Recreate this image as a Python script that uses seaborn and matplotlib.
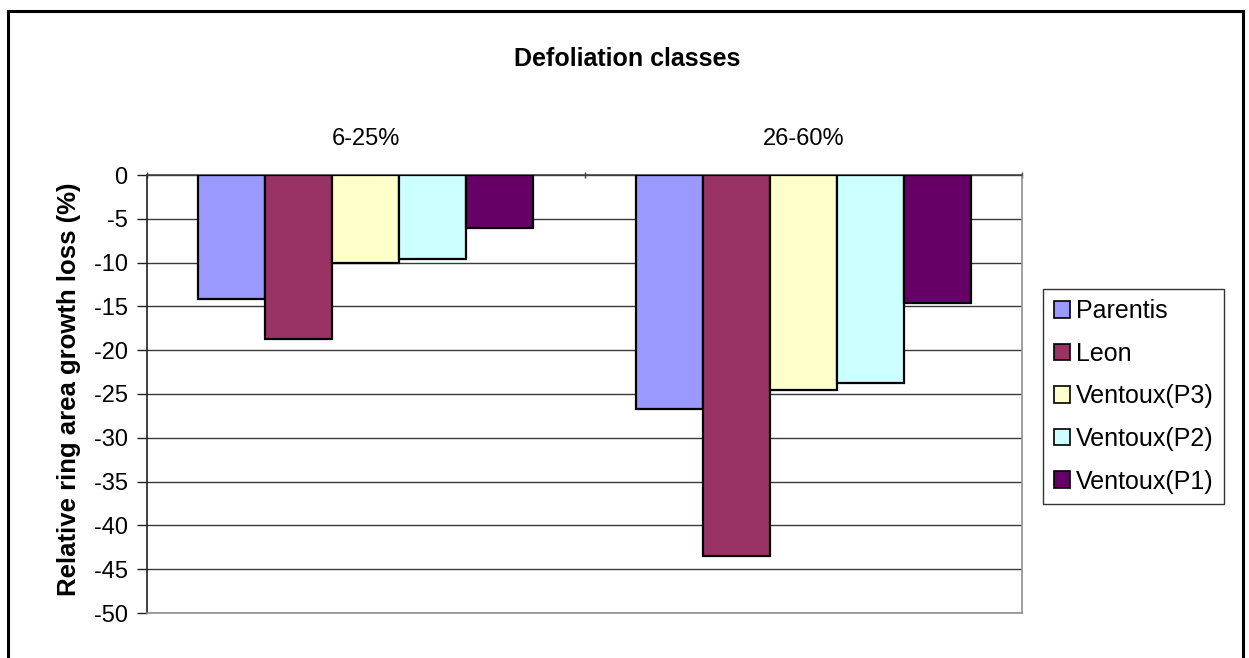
import matplotlib
matplotlib.use("Agg")
import matplotlib.pyplot as plt
import seaborn as sns
import pandas as pd
from matplotlib.patches import Rectangle

# Data
classes = ["6-25%", "26-60%"]
sites = ["Parentis", "Leon", "Ventoux(P3)", "Ventoux(P2)", "Ventoux(P1)"]
parentis = [-14.2, -26.7]
leon = [-18.7, -43.5]
ventoux_p3 = [-10.0, -24.6]
ventoux_p2 = [-9.6, -23.7]
ventoux_p1 = [-6.0, -14.6]
colors = ["#9999FF", "#993366", "#FFFFCC", "#CCFFFF", "#660066"]
yticks = list(range(0, -55, -5))

series = [parentis, leon, ventoux_p3, ventoux_p2, ventoux_p1]
rows = []
for site, vals in zip(sites, series):
    for cls, v in zip(classes, vals):
        rows.append({"cls": cls, "site": site, "val": v})
df = pd.DataFrame(rows)

sns.set_theme(style="white")
plt.rcParams["font.family"] = ["Liberation Sans", "DejaVu Sans"]
for key in ["text.color", "axes.labelcolor", "xtick.color", "ytick.color"]:
    plt.rcParams[key] = "black"

fig = plt.figure(figsize=(12.49, 6.58), dpi=100)
ax = fig.add_axes([147 / 1249, 1 - 613 / 658, (1022 - 147) / 1249, (613 - 175) / 658])

sns.barplot(data=df, x="cls", y="val", hue="site", order=classes, hue_order=sites,
            palette=colors, saturation=1, width=0.766, edgecolor="black",
            linewidth=1.6, ax=ax, zorder=3)

ax.set_ylim(-50, 0)
ax.set_xlim(-0.5, 1.5)
ax.set_yticks(yticks)
ax.set_yticklabels([str(t) for t in yticks], fontsize=17)
ax.yaxis.grid(True, color="#3a3a3a", linewidth=1.0, zorder=0)
ax.xaxis.grid(False)
ax.set_axisbelow(True)

# Category labels above the zero line
ax.xaxis.tick_top()
ax.tick_params(axis="x", which="major", length=0, pad=18, labelsize=17)
ax.set_xticks([-0.5, 0.5, 1.5], minor=True)
ax.tick_params(axis="x", which="minor", top=True, length=5, direction="inout",
               color="#404040", width=1)
ax.tick_params(axis="y", left=True, length=7, width=1, color="#202020", pad=7)
ax.set_xlabel("")
ax.set_ylabel("Relative ring area growth loss (%)", fontsize=18.5, fontweight="bold")
ax.yaxis.set_label_coords(-0.075, 0.51)

for side, col in [("left", "#202020"), ("top", "#404040"), ("right", "#909090"), ("bottom", "#909090")]:
    ax.spines[side].set_visible(True)
    ax.spines[side].set_color(col)
    ax.spines[side].set_linewidth(1.2)

fig.text(627 / 1249, 1 - 66 / 658, "Defoliation classes", ha="center", va="baseline",
         fontsize=18, fontweight="bold")

leg = ax.legend(loc="upper left", bbox_to_anchor=(1043 / 1249, 1 - 289 / 658),
                bbox_transform=fig.transFigure, frameon=True, fancybox=False,
                edgecolor="black", fontsize=18, handlelength=0.64, handleheight=0.64,
                handletextpad=0.25, labelspacing=0.74, borderpad=0.42,
                borderaxespad=0, title=None)
leg.get_frame().set_linewidth(1.0)
for h in leg.legend_handles:
    h.set_edgecolor("black")
    h.set_linewidth(1.2)

# Chart border
fig.patches.append(Rectangle((8 / 1249, -0.05), (1243 - 8) / 1249, 1.05 - 11 / 658,
                             transform=fig.transFigure, fill=False,
                             edgecolor="black", linewidth=2.2))

fig.savefig("out.png", dpi=100, facecolor="white")
